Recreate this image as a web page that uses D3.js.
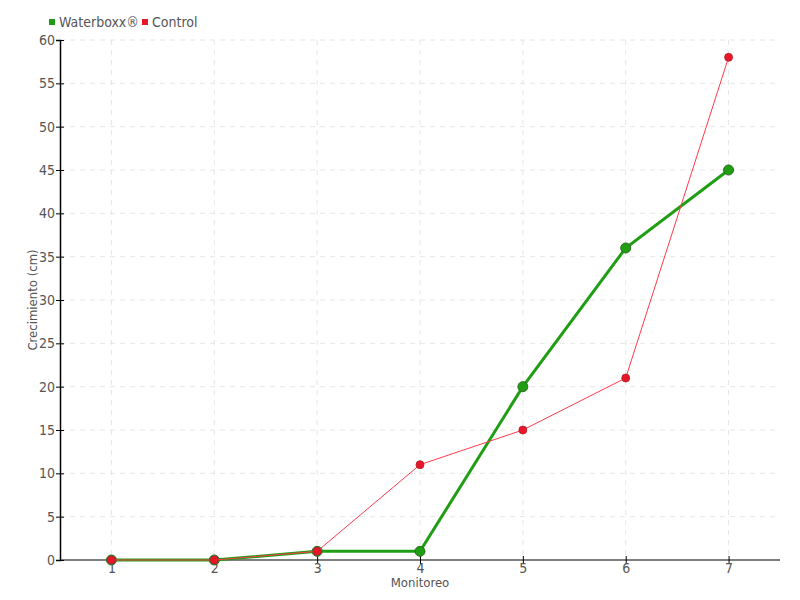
<!DOCTYPE html>
<html><head><meta charset="utf-8">
<script src="https://cdn.jsdelivr.net/npm/d3@7"></script>
<style>body{margin:0;background:#fff}svg{display:block}text{font-family:"DejaVu Sans Condensed","DejaVu Sans",sans-serif;font-stretch:condensed;fill:#555}</style>
</head><body>
<script>
const categories = [1,2,3,4,5,6,7];
const waterboxx = [0,0,1,1,20,36,45];
const control = [0,0,1,11,15,21,58];
const yTicks = [0,5,10,15,20,25,30,35,40,45,50,55,60];
const seriesNames = ["Waterboxx®","Control"];

const W=800,H=600, m={l:60,r:20,t:40,b:40};
const FONT='"DejaVu Sans Condensed","DejaVu Sans",sans-serif';
const svg=d3.select("body").append("svg").attr("width",W).attr("height",H);
const x=d3.scalePoint().domain(categories).range([m.l,W-m.r]).padding(0.5);
const y=d3.scaleLinear().domain([0,60]).range([H-m.b,m.t]);

// grid
svg.append("g").selectAll("line").data(yTicks.slice(1)).join("line")
 .attr("x1",m.l).attr("x2",W-m.r).attr("y1",d=>y(d)).attr("y2",d=>y(d))
 .attr("stroke","#e6e6e6").attr("stroke-dasharray","5,5");
svg.append("g").selectAll("line").data(categories).join("line")
 .attr("x1",d=>x(d)).attr("x2",d=>x(d)).attr("y1",m.t).attr("y2",H-m.b)
 .attr("stroke","#e6e6e6").attr("stroke-dasharray","5,5");

// axes
const ya=svg.append("g").attr("transform",`translate(${m.l},0)`)
 .call(d3.axisLeft(y).tickValues(yTicks).tickSize(4).tickPadding(3));
ya.select(".domain").attr("stroke","#000").attr("stroke-width",1.5);
ya.selectAll(".tick line").attr("x2",4).attr("x1",-4).attr("stroke","#000");
ya.selectAll("text").style("font-size","14px").attr("fill","#555").style("font-family",FONT).attr("x",-5);
const xa=svg.append("g").attr("transform",`translate(0,${H-m.b})`)
 .call(d3.axisBottom(x).tickSize(4).tickPadding(-1));
xa.select(".domain").attr("stroke","#000").attr("stroke-width",1.2).attr("d",`M${m.l},0H${W-m.r}`);
xa.selectAll(".tick line").attr("y1",-4).attr("y2",4).attr("stroke","#000");
xa.selectAll("text").style("font-size","14px").attr("fill","#555").style("font-family",FONT);

svg.append("text").attr("x",420).attr("y",587).attr("text-anchor","middle").style("font-size","13px").text("Monitoreo");
svg.append("text").attr("transform","translate(37,300) rotate(-90)").attr("text-anchor","middle").style("font-size","13px").text("Crecimiento (cm)");

// lines
const line=d3.line().x((d,i)=>x(categories[i])).y(d=>y(d));
svg.append("path").datum(waterboxx).attr("d",line).attr("fill","none").attr("stroke","#1f9e14").attr("stroke-width",3);
svg.append("g").selectAll("circle").data(waterboxx).join("circle")
 .attr("cx",(d,i)=>x(categories[i])).attr("cy",d=>y(d)).attr("r",5)
 .attr("fill","#1f9e14").attr("stroke","#2e6b22").attr("stroke-width",1);
svg.append("path").datum(control).attr("d",line).attr("fill","none").attr("stroke","#ff3a4a").attr("stroke-width",1);
svg.append("g").selectAll("circle").data(control).join("circle")
 .attr("cx",(d,i)=>x(categories[i])).attr("cy",d=>y(d)).attr("r",4)
 .attr("fill","#e8162a").attr("stroke","#b3202a").attr("stroke-width",0.8);

// legend
const colors=["#1f9e14","#e8162a"], lx=[49,142];
seriesNames.forEach((n,i)=>{
 svg.append("rect").attr("x",lx[i]).attr("y",19).attr("width",6).attr("height",6).attr("fill",colors[i]);
 svg.append("text").attr("x",lx[i]+10).attr("y",27).style("font-size","14px").text(n);
});
</script>
</body></html>
